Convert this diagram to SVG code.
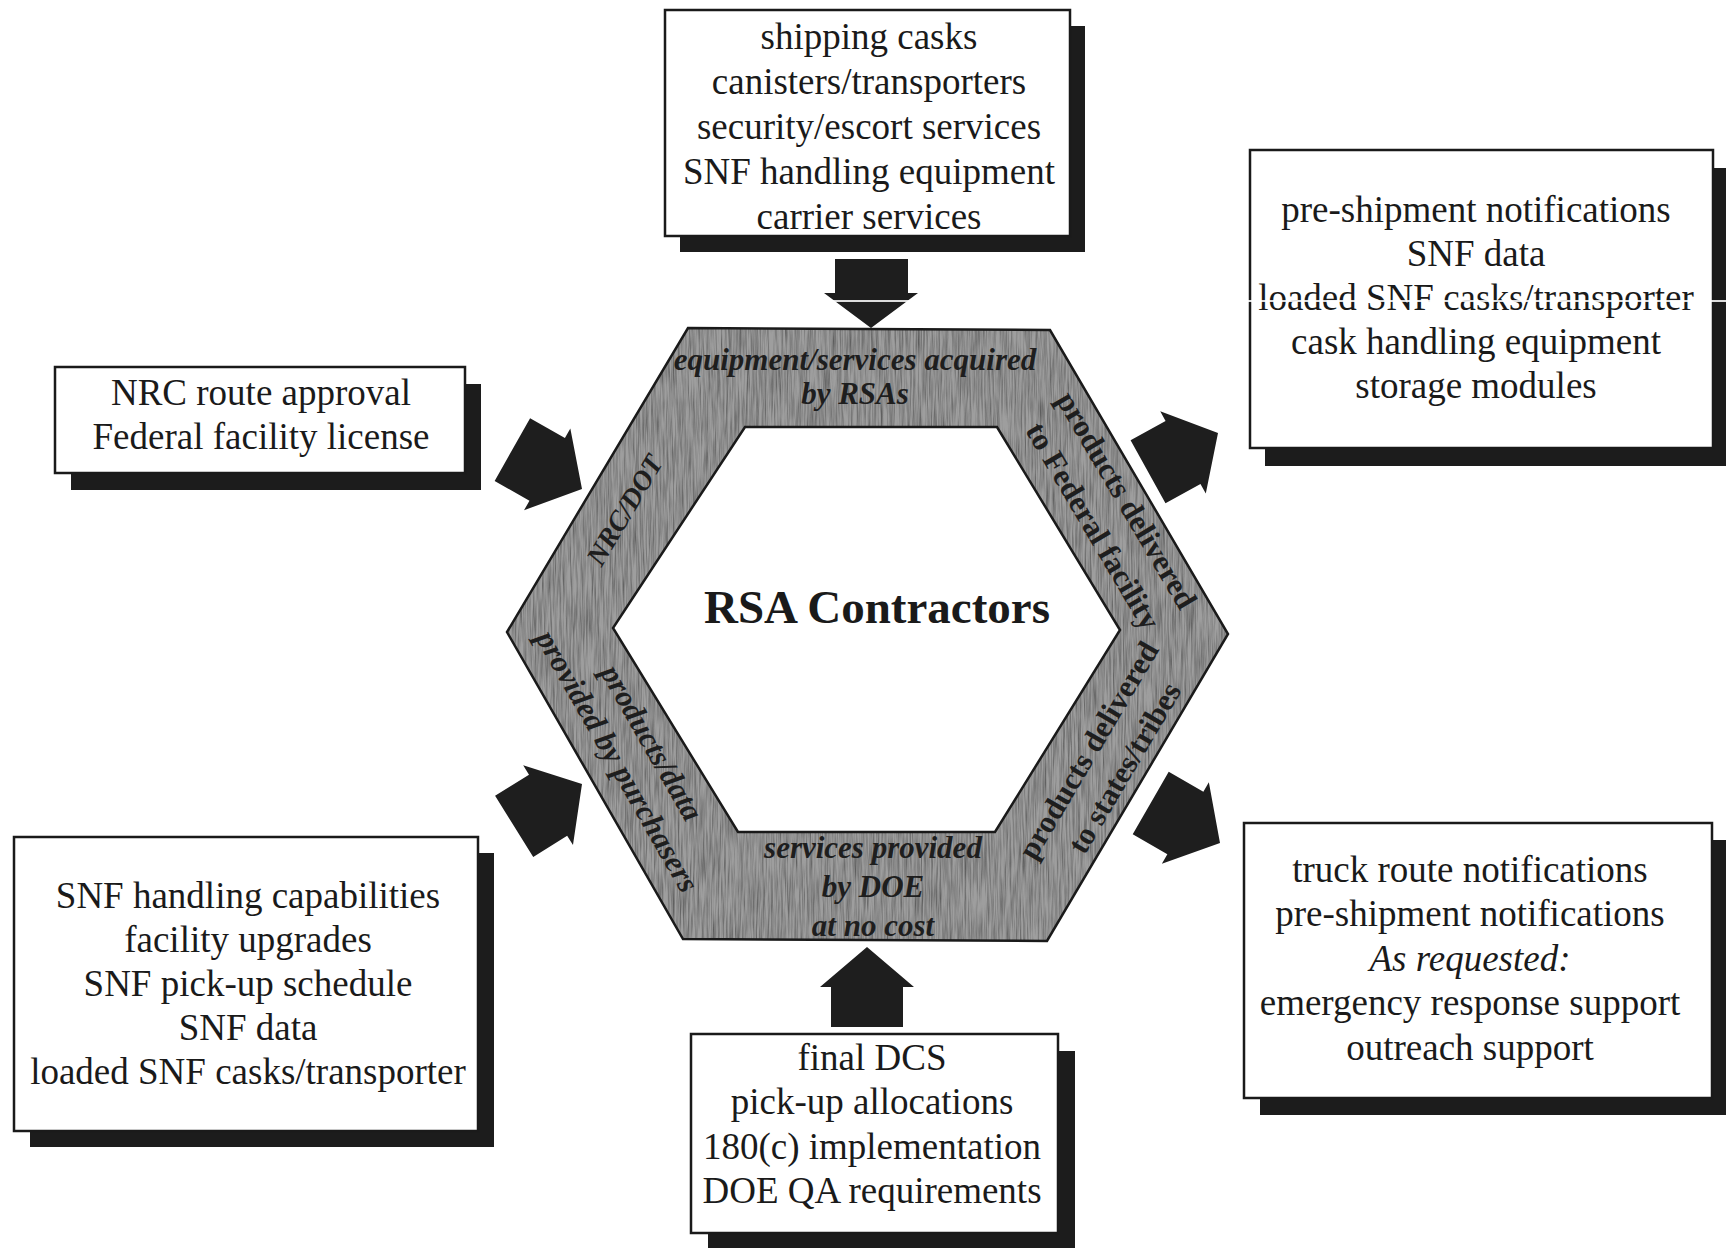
<svg xmlns="http://www.w3.org/2000/svg" width="1726" height="1248" viewBox="0 0 1726 1248">
<defs>
<style>
.box{fill:#fff;stroke:#1a1a1a;stroke-width:2.5}
.shadow{fill:#1c1c1c}
.t{font-family:"Liberation Serif","Times New Roman",serif;font-size:37px;fill:#1a1a1a;text-anchor:middle}
.band{font-family:"Liberation Serif","Times New Roman",serif;font-size:31px;font-weight:bold;fill:#1e1e1e;text-anchor:middle}
.it{font-style:italic}
.title{font-family:"Liberation Serif","Times New Roman",serif;font-size:47px;font-weight:bold;fill:#1a1a1a;text-anchor:middle}
.arrow{fill:#1e1e1e}
</style>
<filter id="grain" x="0" y="0" width="1" height="1">
<feTurbulence type="fractalNoise" baseFrequency="0.6 0.025" numOctaves="3" seed="7" result="n"/>
<feColorMatrix in="n" type="matrix" values="0 0 0 0 0.1  0 0 0 0 0.1  0 0 0 0 0.1  1.8 0 0 0 -0.6" result="d"/>
<feComposite in="d" in2="SourceGraphic" operator="in" result="c"/>
<feMerge><feMergeNode in="SourceGraphic"/><feMergeNode in="c"/></feMerge>
</filter>
<path id="arr" d="M0,0 L-40,-47 L-40,-36 L-80,-36 L-80,36 L-40,36 L-40,47 Z"/>
</defs>
<rect width="1726" height="1248" fill="#fff"/>

<g id="hexagon">
<path d="M688,328 L1050,330 L1228,634 L1047,941 L683,939 L507,632 Z M745,427 L997,427 L1120,630 L995,832 L738,832 L613,628 Z" fill="#9e9e9e" fill-rule="evenodd" filter="url(#grain)"/>
<path d="M688,328 L1050,330 L1228,634 L1047,941 L683,939 L507,632 Z M745,427 L997,427 L1120,630 L995,832 L738,832 L613,628 Z" fill="none" stroke="#1a1a1a" stroke-width="2.5"/>
<text class="title" x="877" y="623">RSA Contractors</text>
<text class="band it" x="855" y="370">equipment/services acquired</text>
<text class="band it" x="855" y="404">by RSAs</text>
<g transform="translate(638,504) rotate(-59.4)"><text class="band it" x="-12" y="1" style="font-size:28px">NRC/DOT</text></g>
<g transform="translate(1099,505) rotate(59.5)"><text class="band" x="10" y="-16">products delivered</text><text class="band" x="15" y="26">to Federal facility</text></g>
<g transform="translate(635,758) rotate(60.2)"><text class="band it" x="-5" y="-12">products/data</text><text class="band it" x="-6" y="27">provided by purchasers</text></g>
<g transform="translate(1097.5,759) rotate(-59.5)"><text class="band" x="3" y="-2">products delivered</text><text class="band" x="6" y="38">to states/tribes</text></g>
<text class="band it" x="873" y="858">services provided</text>
<text class="band it" x="873" y="897">by DOE</text>
<text class="band it" x="873" y="936">at no cost</text>
</g>

<g id="box-top">
<rect class="shadow" x="680" y="26" width="405" height="226"/>
<rect class="box" x="665" y="10" width="405" height="226"/>
<text class="t" x="869" y="49">shipping casks</text>
<text class="t" x="869" y="94">canisters/transporters</text>
<text class="t" x="869" y="139">security/escort services</text>
<text class="t" x="869" y="184">SNF handling equipment</text>
<text class="t" x="869" y="229">carrier services</text>
</g>

<g id="box-right-top">
<rect class="shadow" x="1265" y="168" width="463" height="298"/>
<rect class="box" x="1250" y="150" width="463" height="298"/>
<text class="t" x="1476" y="222">pre-shipment notifications</text>
<text class="t" x="1476" y="266">SNF data</text>
<text class="t" x="1476" y="310">loaded SNF casks/transporter</text>
<text class="t" x="1476" y="354">cask handling equipment</text>
<text class="t" x="1476" y="398">storage modules</text>
</g>

<g id="box-left-top">
<rect class="shadow" x="71" y="384" width="410" height="106"/>
<rect class="box" x="55" y="367" width="410" height="106"/>
<text class="t" x="261" y="405">NRC route approval</text>
<text class="t" x="261" y="449">Federal facility license</text>
</g>

<g id="box-left-bottom">
<rect class="shadow" x="30" y="853" width="464" height="294"/>
<rect class="box" x="14" y="837" width="464" height="294"/>
<text class="t" x="248" y="908">SNF handling capabilities</text>
<text class="t" x="248" y="952">facility upgrades</text>
<text class="t" x="248" y="996">SNF pick-up schedule</text>
<text class="t" x="248" y="1040">SNF data</text>
<text class="t" x="248" y="1084">loaded SNF casks/transporter</text>
</g>

<g id="box-right-bottom">
<rect class="shadow" x="1260" y="840" width="468" height="275"/>
<rect class="box" x="1244" y="823" width="468" height="275"/>
<text class="t" x="1470" y="882">truck route notifications</text>
<text class="t" x="1470" y="926">pre-shipment notifications</text>
<text class="t it" x="1470" y="971">As requested:</text>
<text class="t" x="1470" y="1015">emergency response support</text>
<text class="t" x="1470" y="1060">outreach support</text>
</g>

<g id="box-bottom">
<rect class="shadow" x="708" y="1051" width="367" height="210"/>
<rect class="box" x="691" y="1034" width="367" height="199"/>
<text class="t" x="872" y="1070">final DCS</text>
<text class="t" x="872" y="1114">pick-up allocations</text>
<text class="t" x="872" y="1159">180(c) implementation</text>
<text class="t" x="872" y="1203">DOE QA requirements</text>
</g>

<g id="connectors">
<polygon class="arrow" points="871,328 824,293 835,293 835,259 908,259 908,293 918,293"/>
<use href="#arr" class="arrow" transform="translate(867,947) rotate(-90)"/>
<use href="#arr" class="arrow" transform="translate(582,489) rotate(29.5)"/>
<use href="#arr" class="arrow" transform="translate(1218,433) rotate(-29)"/>
<use href="#arr" class="arrow" transform="translate(582,784) rotate(-32)"/>
<use href="#arr" class="arrow" transform="translate(1220,843) rotate(30)"/>
</g>

<line x1="820" y1="301" x2="1726" y2="301" stroke="#fff" stroke-width="2" opacity="0.85"/>
</svg>
